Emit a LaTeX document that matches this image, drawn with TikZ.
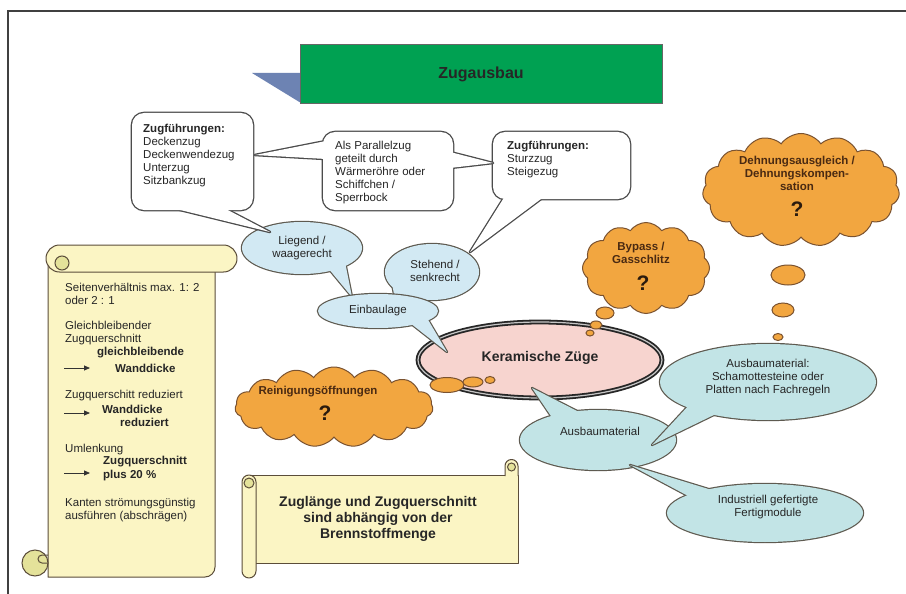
\documentclass[tikz,border=0pt]{standalone}
\usepackage{fontspec}
\setmainfont{Liberation Sans}
\usetikzlibrary{shapes.geometric,shapes.symbols,arrows.meta}
\definecolor{grn}{HTML}{00A152}
\definecolor{tri}{HTML}{6D83B3}
\definecolor{bblue}{HTML}{D2E9F3}
\definecolor{bteal}{HTML}{C2E4E6}
\definecolor{bline}{HTML}{5E5A50}
\definecolor{orng}{HTML}{F2A640}
\definecolor{oline}{HTML}{7A5230}
\definecolor{pinkf}{HTML}{F7D4CF}
\definecolor{scr}{HTML}{FBF5C4}
\definecolor{scrd}{HTML}{E4E29A}
\definecolor{sline}{HTML}{5B4D3A}
\definecolor{otext}{HTML}{4A2A12}
\definecolor{qcol}{HTML}{2B1B0E}
\newcommand\callout[3]{%
  \path[#1,fill=none] #2; \path[#1,fill=none] #3;
  \path[#1,draw=none] #2; \path[#1,draw=none] #3;}
\begin{document}
\begin{tikzpicture}[x=1pt,y=-1pt,
  t/.style={inner sep=0pt, font=\fontsize{11.5}{13}\selectfont, text=black!85},
  tl/.style={t, align=left, anchor=west},
  tc/.style={t, align=center},
  bluecall/.style={draw=bline, fill=bblue, line width=2.4pt, line join=round},
  tealcall/.style={draw=bline, fill=bteal, line width=2.4pt, line join=round},
  boxcall/.style={draw=black!70, fill=white, line width=2.6pt, line join=round},
  cloudst/.style={cloud, cloud puffs=14, cloud puff arc=110, cloud ignores aspect, draw=oline, fill=orng, line width=1pt, inner sep=0pt},
  bubble/.style={ellipse, draw=oline, fill=orng, line width=1pt, inner sep=0pt},
  scrollst/.style={draw=sline, fill=scr, line width=1pt, line join=round},
  curl/.style={draw=sline, fill=scrd, line width=1pt},
  qm/.style={inner sep=0pt, font=\fontsize{21}{24}\selectfont\bfseries, text=qcol},
  ctext/.style={inner sep=0pt, font=\fontsize{11.5}{13}\selectfont\bfseries, text=otext, align=center},
  bt/.style={tl, font=\fontsize{11.5}{13}\selectfont\bfseries},
  sarrow/.style={-{Triangle[length=6pt,width=5pt]}, line width=0.8pt, black!80},
]
\useasboundingbox (0,0) rectangle (906,594);
\fill[white] (0,0) rectangle (906,594);

% frame
\coordinate (fBL) at (8,594);
\coordinate (fTL) at (8,11);
\coordinate (fTR) at (906,11);
\draw[line width=1.6pt, black!75] (fBL) -- (fTL) -- (fTR);

% banner
\fill[tri] (252,73) -- (301,73) -- (301,103) -- cycle;
\node[draw=black!60, line width=0.8pt, fill=grn, minimum width=362pt, minimum height=59pt, inner sep=0pt, anchor=north west] (banner) at (300,44) {};
\node[font=\fontsize{16}{18}\selectfont\bfseries, text=black!85, inner sep=0pt] (bannerT) at (481,74) {Zugausbau};

% vertical scroll (left)
\path[scrollst] (48,262) -- (48,577) -- (205,577) arc[start angle=90, end angle=0, radius=10] -- (215,262) -- cycle;
\path[scrollst, rounded corners=13.5pt] (46,245) rectangle (237,272);
\path[curl] (62,263) circle[radius=7];
\path[curl] (35,563) circle[radius=13];
\draw[sline, line width=1pt] (48,555) -- (42,555) arc[start angle=270, end angle=90, radius=4] -- (48,563);

% horizontal scroll (bottom)
\path[scrollst] (250,475) rectangle (518,563);
\path[scrollst] (505,476) -- (505,466) arc[start angle=180, end angle=360, radius=6.5] -- (518,476);
\path[curl] (511.5,467) circle[radius=4];
\path[scrollst, rounded corners=7pt] (242,475) rectangle (256,578);
\path[curl] (249,483) circle[radius=5];

% central ellipse
\node[ellipse, minimum width=244pt, minimum height=76pt, fill=pinkf, draw=black!85, line width=1.8pt, double=gray!45, double distance=1.2pt, inner sep=0pt] (ker) at (540,360) {};

% tips
\coordinate (lieTip) at (352,297);
\coordinate (stTip) at (395,300);
\coordinate (einTip) at (447,352);
\coordinate (b1Tip) at (270,232);
\coordinate (b3Tip) at (470,252);
\coordinate (b2L) at (255,155);
\coordinate (b2R) at (493,163);
\coordinate (ausTip) at (532,388);
\coordinate (schTip) at (652,445);
\coordinate (indTip) at (630,465);

% blue callouts
\callout{bluecall}{(302,248) ellipse [x radius=60, y radius=26]}{(328,268) -- (lieTip) -- (345,262) -- cycle}
\callout{bluecall}{(432,272) ellipse [x radius=47, y radius=28]}{(392,283) -- (stTip) -- (412,293) -- cycle}
\callout{bluecall}{(378,311) ellipse [x radius=60, y radius=17]}{(410,323) -- (einTip) -- (427,318) -- cycle}

% box callouts
\callout{boxcall}{[rounded corners=12pt] (132,113) rectangle (253,210)}{(168,207) -- (b1Tip) -- (222,207) -- cycle}
\callout{boxcall}{[rounded corners=12pt] (493,132) rectangle (630,199)}{(505,196) -- (b3Tip) -- (545,196) -- cycle}
\callout{boxcall}{[rounded corners=12pt] (323,132) rectangle (453,210)}{(326,141) -- (b2L) -- (326,159) -- cycle (450,152) -- (b2R) -- (450,168) -- cycle}

% teal callouts
\callout{tealcall}{(598,440) ellipse [x radius=78, y radius=30]}{(553,419) -- (ausTip) -- (583,414) -- cycle}
\callout{tealcall}{(768,382) ellipse [x radius=108, y radius=38]}{(690,404) -- (schTip) -- (720,412) -- cycle}
\callout{tealcall}{(765,513) ellipse [x radius=98, y radius=29]}{(690,497) -- (indTip) -- (715,491) -- cycle}

% clouds
\node[cloudst, cloud puffs=12, minimum width=127pt, minimum height=91pt] (bypass) at (646,268) {};
\node[cloudst, cloud puffs=15, minimum width=197pt, minimum height=113pt] (dehn) at (801,190) {};
\node[cloudst, cloud puffs=15, minimum width=198pt, minimum height=80pt] (rein) at (334,407) {};
\node[bubble, minimum width=18pt, minimum height=12pt] (byb1) at (605,313) {};
\node[bubble, minimum width=12pt, minimum height=8pt] (byb2) at (596,325) {};
\node[bubble, minimum width=8pt, minimum height=6pt] (byb3) at (590,333) {};
\node[bubble, minimum width=34pt, minimum height=20pt] (deb1) at (788,275) {};
\node[bubble, minimum width=22pt, minimum height=14pt] (deb2) at (783,310) {};
\node[bubble, minimum width=10pt, minimum height=7pt] (deb3) at (778,337) {};
\node[bubble, minimum width=34pt, minimum height=15pt] (reb1) at (447,385) {};
\node[bubble, minimum width=20pt, minimum height=10pt] (reb2) at (473,382) {};
\node[bubble, minimum width=10pt, minimum height=7pt] (reb3) at (490,380) {};

% texts
\node[tc] (lieT) at (302,248) {Liegend /\\waagerecht};
\node[tc] (stT) at (435,271) {Stehend /\\senkrecht};
\node[tc] (einT) at (378,311) {Einbaulage};
\node[font=\fontsize{14}{16}\selectfont\bfseries, text=black!85, inner sep=0pt] (kerT) at (540,358) {Keramische Züge};
\node[tc] (ausT) at (600,431) {Ausbaumaterial};
\node[tc] (schT) at (768,378) {Ausbaumaterial:\\Schamottesteine oder\\Platten nach Fachregeln};
\node[tc] (indT) at (768,507) {Industriell gefertigte\\Fertigmodule};

\node[tl] (b1T) at (143,156) {\textbf{Zugführungen:}\\Deckenzug\\Deckenwendezug\\Unterzug\\Sitzbankzug};
\node[tl] (b2T) at (335,173) {Als Parallelzug\\geteilt durch\\Wärmeröhre oder\\Schiffchen /\\Sperrbock};
\node[tl] (b3T) at (507,160) {\textbf{Zugführungen:}\\Sturzzug\\Steigezug};

\node[ctext] (bypassT) at (641,253) {Bypass /\\Gasschlitz};
\node[qm] (bypassQ) at (643,283) {?};
\node[ctext] (dehnT) at (797,173) {Dehnungsausgleich /\\Dehnungskompen-\\sation};
\node[qm] (dehnQ) at (797,209) {?};
\node[ctext] (reinT) at (318,392) {Reinigungsöffnungen};
\node[qm] (reinQ) at (325,413) {?};

% scroll texts
\node[tl] (s1) at (65,294) {Seitenverhältnis max. 1: 2\\oder 2 : 1};
\node[tl] (s2) at (65,333) {Gleichbleibender\\Zugquerschnitt};
\node[bt] (s3) at (97,353) {gleichbleibende};
\node[bt] (s4) at (115,368) {Wanddicke};
\coordinate (a1s) at (64,368); \coordinate (a1e) at (90,368);
\draw[sarrow] (a1s) -- (a1e);
\node[tl] (s5) at (65,396) {Zugquerschitt reduziert};
\node[bt] (s6) at (102,409) {Wanddicke};
\node[bt] (s7) at (120,422) {reduziert};
\coordinate (a2s) at (64,413); \coordinate (a2e) at (90,413);
\draw[sarrow] (a2s) -- (a2e);
\node[tl] (s8) at (65,450) {Umlenkung};
\node[bt] (s9) at (103,462) {Zugquerschnitt};
\node[bt] (s10) at (103,476) {plus 20 \%};
\coordinate (a3s) at (64,473); \coordinate (a3e) at (90,473);
\draw[sarrow] (a3s) -- (a3e);
\node[tl] (s11) at (65,510) {Kanten strömungsgünstig\\ausführen (abschrägen)};

\node[inner sep=0pt, font=\fontsize{14}{16}\selectfont\bfseries, text=black!85, align=center] (hsT) at (378,519) {Zuglänge und Zugquerschnitt\\sind abhängig von der\\Brennstoffmenge};
\end{tikzpicture}
\end{document}
